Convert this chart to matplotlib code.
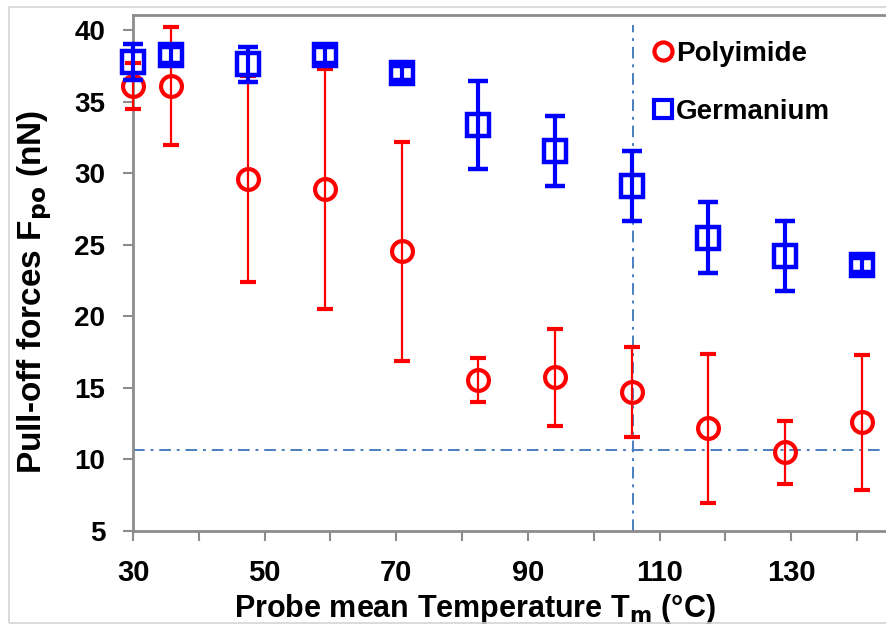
import matplotlib.pyplot as plt
from matplotlib.lines import Line2D
from matplotlib.patches import Rectangle
from matplotlib.ticker import MultipleLocator, FixedLocator

plt.rcParams['font.family'] = ['Liberation Sans', 'DejaVu Sans']
plt.rcParams['font.weight'] = 'bold'
plt.rcParams['mathtext.default'] = 'bf'

# probe mean temperature (°C)
temp = [30.0, 35.8, 47.5, 59.2, 70.8, 82.4, 94.1, 105.8, 117.4, 129.1, 140.8]

# pull-off forces (nN) and error bars
polyimide = [36.1, 36.1, 29.6, 28.9, 24.55, 15.55, 15.73, 14.7, 12.17, 10.49, 12.58]
polyimide_err = [1.6, 4.1, 7.2, 8.4, 7.65, 1.55, 3.4, 3.15, 5.2, 2.2, 4.7]
germanium = [37.75, 38.25, 37.6, 38.25, 37.0, 33.36, 31.57, 29.12, 25.49, 24.23, 23.58]
germanium_err = [1.25, 0.55, 1.25, 0.55, 0.5, 3.1, 2.45, 2.45, 2.5, 2.45, 0.5]

# reference lines
ref_force = 10.65
ref_temp = 105.9

fig = plt.figure(figsize=(8.87, 6.26), dpi=100)
# thin light frame around the picture
fig.patches.append(Rectangle((0.010, 0.005), 1.0, 0.984, transform=fig.transFigure,
                             fill=False, edgecolor='#d4d4d4', linewidth=1.2))
ax = fig.add_axes([0.15, 0.152, 0.848, 0.824])

ref_color = '#4a7ebf'
ax.axhline(ref_force, color=ref_color, linestyle=(0, (6, 3, 1.5, 3)), linewidth=1.4, zorder=1)
ax.axvline(ref_temp, ymax=0.98, color=ref_color, linestyle=(0, (6, 3, 1.5, 3)),
           linewidth=1.4, zorder=1)

ax.errorbar(temp, polyimide, yerr=polyimide_err, fmt='o', color='#ff0000',
            markersize=15, markerfacecolor='none', markeredgewidth=3,
            elinewidth=1.6, capsize=6, capthick=1.6, zorder=3, clip_on=False)
ax.errorbar(temp, germanium, yerr=germanium_err, fmt='s', color='#0000ff',
            markersize=15.5, markerfacecolor='none', markeredgewidth=3.2,
            elinewidth=3, capsize=7, capthick=3, zorder=4, clip_on=False)

ax.set_xlim(30, 144.3)
ax.set_ylim(5, 41.05)
ax.yaxis.set_major_locator(MultipleLocator(5))
ax.xaxis.set_major_locator(FixedLocator([30, 50, 70, 90, 110, 130]))
ax.xaxis.set_minor_locator(FixedLocator([40, 60, 80, 100, 120, 140]))

for side in ['left', 'bottom', 'top']:
    ax.spines[side].set_color('#8c8c8c')
    ax.spines[side].set_linewidth(2)
ax.spines['right'].set_visible(False)

ax.tick_params(axis='both', which='both', direction='out', length=7, width=1.5,
               color='#8c8c8c')
ax.tick_params(axis='y', labelsize=20, pad=13)
ax.tick_params(axis='x', labelsize=21, pad=13)

ax.set_xlabel('Probe mean Temperature T$_\\mathbf{m}$ (°C)', fontsize=22, fontweight='bold')
ax.set_ylabel('Pull-off forces F$_\\mathbf{po}$ (nN)', fontsize=24, fontweight='bold')
ax.xaxis.set_label_coords(0.455, -0.118)
ax.yaxis.set_label_coords(-0.105, 0.463)

handles = [
    Line2D([], [], marker='o', linestyle='none', color='#ff0000', markerfacecolor='none',
           markersize=13, markeredgewidth=3, label='Polyimide'),
    Line2D([], [], marker='s', linestyle='none', color='#0000ff', markerfacecolor='none',
           markersize=13, markeredgewidth=3, label='Germanium'),
]
ax.legend(handles=handles, loc='upper left', bbox_to_anchor=(0.69, 0.95), frameon=False,
          fontsize=20, handletextpad=0.05, handlelength=0.8,
          labelspacing=1.15, borderaxespad=0, borderpad=0)

fig.savefig('out.png', dpi=100)
